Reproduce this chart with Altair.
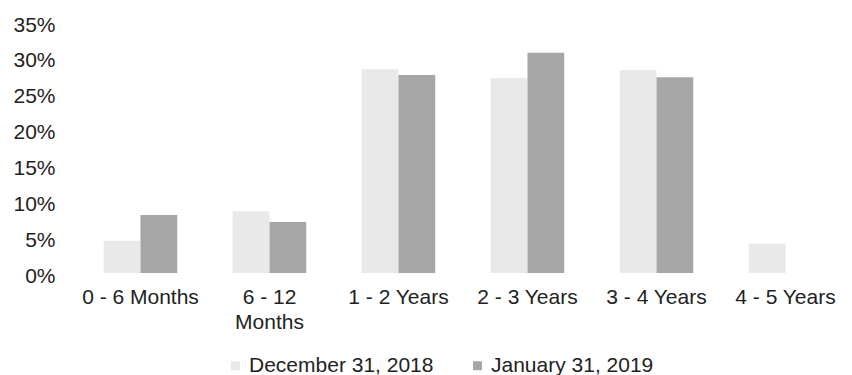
import altair as alt
import pandas as pd

categories = ["0 - 6 Months", "6 - 12 Months", "1 - 2 Years", "2 - 3 Years", "3 - 4 Years", "4 - 5 Years"]
series = ["December 31, 2018", "January 31, 2019"]
dec_2018 = [0.045, 0.086, 0.284, 0.272, 0.283, 0.041]
jan_2019 = [0.081, 0.071, 0.276, 0.307, 0.273, 0.0]
colors = ["#E9E9E9", "#A6A6A6"]

rows = []
for c, a, b in zip(categories, dec_2018, jan_2019):
    rows.append({"cat": c, "series": series[0], "value": a})
    rows.append({"cat": c, "series": series[1], "value": b})
df = pd.DataFrame(rows)

font = "Liberation Sans"

chart = alt.Chart(df).mark_bar().encode(
    x=alt.X("cat:N", sort=categories, title=None,
            scale=alt.Scale(paddingInner=0.43, paddingOuter=0.215),
            axis=alt.Axis(labelAngle=0, domain=False, ticks=False, labelPadding=13,
                          labelFontSize=21, labelColor="#222222", labelFont=font,
                          labelLineHeight=25,
                          labelExpr="datum.value == '6 - 12 Months' ? ['6 - 12', 'Months'] : datum.value")),
    xOffset=alt.XOffset("series:N", sort=series),
    y=alt.Y("value:Q", title=None,
            scale=alt.Scale(domain=[0, 0.35], nice=False),
            axis=alt.Axis(format=".0%", values=[0, 0.05, 0.1, 0.15, 0.2, 0.25, 0.3, 0.35],
                          domain=False, ticks=False, grid=False, labelPadding=21,
                          labelOffset=3,
                          labelFontSize=21, labelColor="#222222", labelFont=font)),
    color=alt.Color("series:N", sort=series,
                    scale=alt.Scale(domain=series, range=colors),
                    legend=alt.Legend(title=None, orient="none", direction="horizontal",
                                      legendX=149, legendY=333,
                                      symbolType="square", symbolSize=81,
                                      labelFontSize=21, labelFont=font, labelColor="#222222",
                                      labelLimit=400,
                                      columnPadding=33, labelOffset=3)),
).properties(
    width=774, height=251,
    padding={"left": 76, "top": 22, "right": 2, "bottom": 102},
    autosize=alt.AutoSizeParams(type="none"),
    background="white",
).configure_view(stroke=None)

chart.save("out.html", embed_options={"renderer": "svg", "actions": False})
